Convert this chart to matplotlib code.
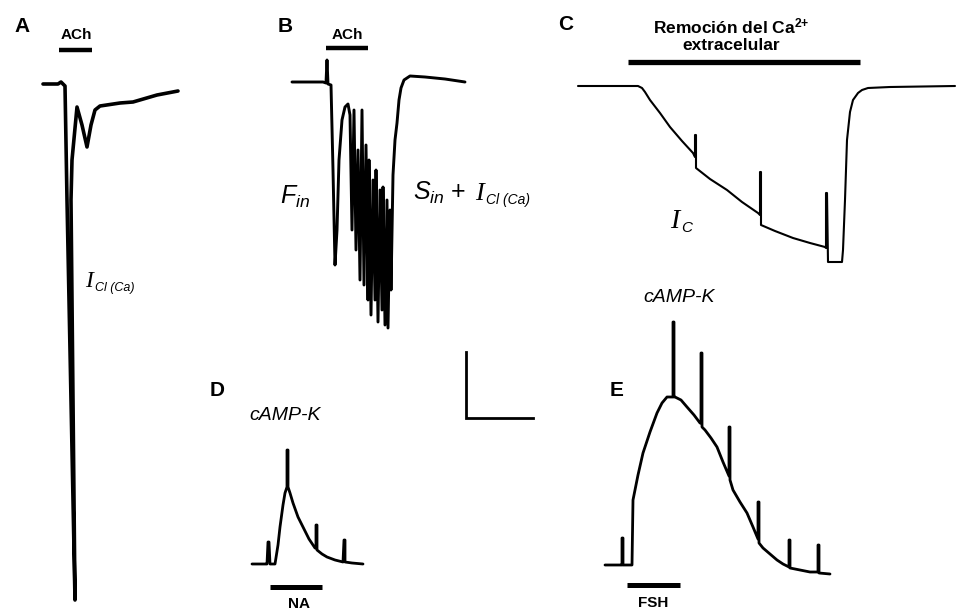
import matplotlib.pyplot as plt

plt.rcParams['font.family'] = ['Liberation Sans', 'DejaVu Sans']
plt.rcParams['mathtext.fontset'] = 'custom'
plt.rcParams['mathtext.it'] = 'Liberation Sans:italic'
plt.rcParams['mathtext.rm'] = 'Liberation Sans'
plt.rcParams['mathtext.bf'] = 'Liberation Sans:bold'

# Current traces: time (arbitrary units) and current deflection from baseline
# (arbitrary units, inward current negative)
t_a = [0, 15, 18, 20, 22, 24, 28, 32, 30, 28, 29, 34, 39, 44, 48, 52, 57, 77, 90, 114, 135]
i_a = [0, 0, 2, 0, -2, -116, -316, -516, -316, -116, -76, -23, -41, -63, -41, -26, -22, -19, -18, -11, -7]

t_b = [0, 31, 34, 35, 36, 39, 41, 43, 45, 47, 50, 53, 56, 58, 60, 62, 64, 66, 68, 70,
       72, 74, 76, 77, 79, 81, 83, 84, 86, 88, 90, 91, 93, 95, 96, 98, 99, 101, 103, 105,
       107, 109, 112, 118, 133, 153, 173]
i_b = [0, 0, -1, 22, -2, -3, -88, -183, -148, -78, -38, -25, -22, -33, -148, -28, -168, -68, -198, -28,
       -203, -63, -218, -78, -233, -98, -218, -88, -240, -108, -228, -105, -243, -118, -246, -128, -208, -93, -58, -41,
       -18, -6, 2, 6, 5, 3, 0]

t_c = [0, 27, 60, 64, 67, 72, 82, 92, 104, 115, 117, 117, 118, 118, 132, 149, 164, 180, 182, 182,
       183, 183, 197, 215, 232, 247, 248, 248, 249, 250, 264, 265, 267, 269, 272, 275, 280, 284, 290, 312, 377]
i_c = [0, 0, 0, -2, -6, -14, -27, -41, -55, -67, -71, -49, -49, -82, -93, -104, -116, -127, -129, -86,
       -86, -139, -145, -152, -157, -161, -162, -107, -107, -176, -176, -164, -114, -54, -26, -14, -7, -4, -2, -1, 0]

t_d = [0, 14, 15, 16, 17, 18, 23, 26, 28, 31, 33, 35, 35, 36, 36, 38, 41, 46, 51, 57,
       63, 64, 64, 65, 65, 70, 75, 83, 91, 92, 93, 93, 100, 111]
i_d = [0, 0, 0, 22, 22, 0, 0, 19, 37, 59, 71, 77, 114, 114, 77, 71, 61, 47, 37, 25,
       16, 16, 39, 39, 14, 10, 7, 4, 2, 24, 24, 2, 1, 0]

t_e = [0, 16, 17, 17, 18, 18, 27, 28, 33, 38, 45, 52, 57, 62, 68, 68, 69, 69, 70, 76,
       82, 89, 95, 96, 96, 97, 97, 100, 106, 112, 118, 124, 124, 125, 125, 128, 135, 142, 148, 153,
       153, 154, 154, 158, 165, 172, 178, 184, 184, 185, 185, 195, 205, 213, 213, 214, 214, 225]
i_e = [0, 0, 0, 27, 27, 0, 0, 65, 90, 112, 133, 152, 162, 168, 168, 243, 243, 168, 168, 165,
       158, 150, 142, 142, 212, 212, 138, 135, 127, 118, 103, 89, 138, 138, 85, 75, 63, 52, 38, 26,
       63, 63, 22, 17, 11, 5, 1, -2, 25, 25, -3, -5, -7, -7, 20, 20, -8, -9]

# Drug application periods, in each trace's time units
ach_a = (16, 49)
ach_b = (34, 76)
ca_free_c = (50, 282)
na_d = (18, 70)
fsh_e = (22, 75)

# Calibration bar lengths
scale_v = 66
scale_h = 67

W, H = 959, 611
fig = plt.figure(figsize=(W / 100, H / 100), dpi=100)
ax = fig.add_axes([0, 0, 1, 1])
ax.set_xlim(0, W)
ax.set_ylim(H, 0)
ax.axis('off')


def trace(t, i, x0, y0, lw):
    ax.plot([x0 + v for v in t], [y0 - v for v in i], color='black', lw=lw,
            solid_joinstyle='round', solid_capstyle='round')


def drug_bar(span, x0, y, lw=3.2):
    ax.plot([x0 + span[0], x0 + span[1]], [y, y], color='black', lw=lw, solid_capstyle='butt')


def current_label(x, y, main, sub, size, sub_size, dx):
    ax.text(x, y, main, family='Liberation Serif', style='italic', fontsize=size, va='baseline')
    ax.text(x + dx, y + 4, sub, family='Liberation Sans', style='italic', fontsize=sub_size, va='baseline')


# A
trace(t_a, i_a, 43, 84, 2.6)
drug_bar(ach_a, 43, 50)
ax.text(22, 27, 'A', fontsize=15, weight='bold', ha='center', va='center')
ax.text(76, 35, 'ACh', fontsize=11, weight='bold', ha='center', va='center')
current_label(85, 287, 'I', 'Cl (Ca)', 17, 9, 10)

# B
trace(t_b, i_b, 292, 82, 2.1)
drug_bar(ach_b, 292, 48)
ax.text(285, 27, 'B', fontsize=15, weight='bold', ha='center', va='center')
ax.text(347, 35, 'ACh', fontsize=11, weight='bold', ha='center', va='center')
ax.text(280, 204, r'$F_{in}$', fontsize=18, va='baseline')
ax.text(413, 200, r'$S_{in}$ +', fontsize=18, va='baseline')
current_label(475, 200, 'I', 'Cl (Ca)', 19, 10, 11)

# C
trace(t_c, i_c, 578, 86, 1.5)
drug_bar(ca_free_c, 578, 62, 3.8)
ax.text(566, 25, 'C', fontsize=15, weight='bold', ha='center', va='center')
ax.text(731, 26, r'Remoción del Ca$^{\mathbf{2{+}}}$', fontsize=12.5, weight='bold', ha='center', va='center')
ax.text(731, 46, 'extracelular', fontsize=12.5, weight='bold', ha='center', va='center')
current_label(670, 228, 'I', 'C', 20, 11, 11)

# calibration bars
ax.plot([466, 466, 466 + scale_h], [418 - scale_v, 418, 418], color='black', lw=2.0,
        solid_joinstyle='miter')

# D
trace(t_d, i_d, 252, 564, 2.0)
drug_bar(na_d, 252, 587, 3.6)
ax.text(217, 390, 'D', fontsize=15, weight='bold', ha='center', va='center')
ax.text(285, 416, 'cAMP-K', fontsize=14, style='italic', ha='center', va='center')
ax.text(299, 604, 'NA', fontsize=11, weight='bold', ha='center', va='center')

# E
trace(t_e, i_e, 605, 565, 2.0)
drug_bar(fsh_e, 605, 585, 3.6)
ax.text(617, 391, 'E', fontsize=15, weight='bold', ha='center', va='center')
ax.text(679, 297, 'cAMP-K', fontsize=14, style='italic', ha='center', va='center')
ax.text(653, 603, 'FSH', fontsize=11, weight='bold', ha='center', va='center')

fig.savefig('out.png', dpi=100)
